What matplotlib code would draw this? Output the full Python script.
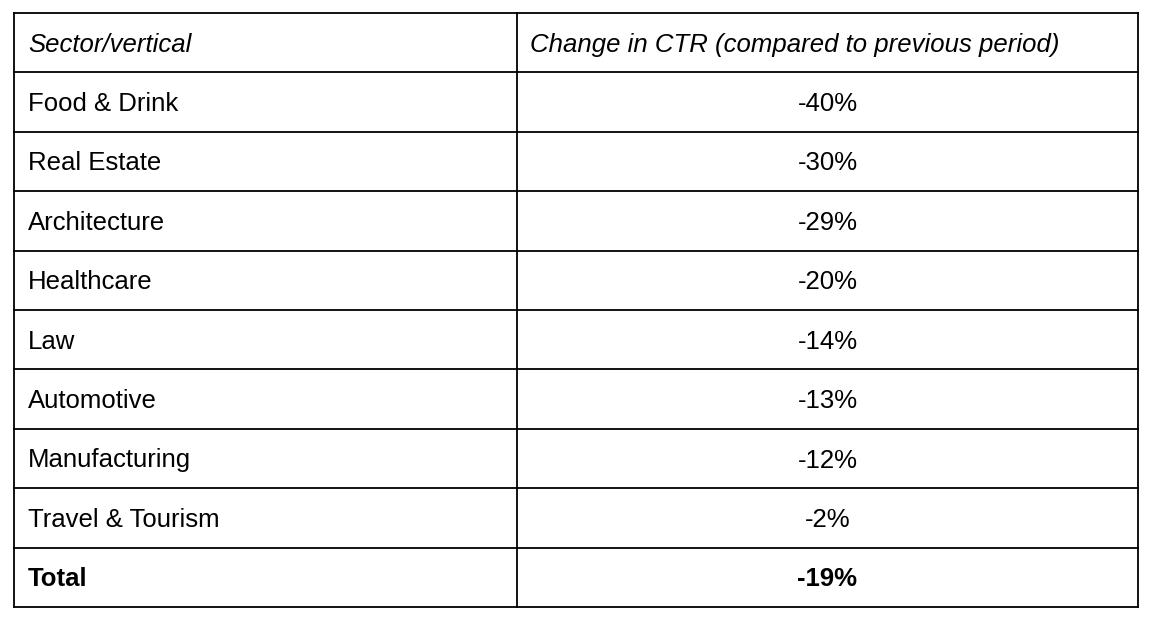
import matplotlib
matplotlib.use("Agg")
import matplotlib.pyplot as plt

header = ["Sector/vertical", "Change in CTR (compared to previous period)"]
sectors = ["Food & Drink", "Real Estate", "Architecture", "Healthcare", "Law",
           "Automotive", "Manufacturing", "Travel & Tourism", "Total"]
changes = ["-40%", "-30%", "-29%", "-20%", "-14%", "-13%", "-12%", "-2%", "-19%"]

W, H = 1156, 624
fig = plt.figure(figsize=(W/100, H/100), dpi=100)
ax = fig.add_axes([0, 0, 1, 1])
ax.set_xlim(0, W); ax.set_ylim(H, 0); ax.axis("off")

left, right, mid, top, bottom = 14, 1138, 517, 13, 607
n = len(sectors) + 1
rh = (bottom - top) / n
for i in range(n + 1):
    y = top + i * rh
    ax.plot([left, right], [y, y], color="black", lw=1.3)
for x in (left, mid, right):
    ax.plot([x, x], [top, bottom], color="black", lw=1.3)

fs = 18.5
font = "Liberation Sans"
dy = 2
cy = top + rh / 2 + dy
ax.text(28, cy, header[0], ha="left", va="center", fontsize=fs, style="italic", family=font)
ax.text(530, cy, header[1], ha="left", va="center", fontsize=fs, style="italic", family=font)
for i, (s, c) in enumerate(zip(sectors, changes)):
    cy = top + (i + 1.5) * rh + dy
    w = "bold" if s == "Total" else "normal"
    ax.text(28, cy, s, ha="left", va="center", fontsize=fs, weight=w, family=font)
    ax.text((mid + right) / 2, cy, c, ha="center", va="center", fontsize=fs, weight=w, family=font)

fig.savefig("out.png", dpi=100)
